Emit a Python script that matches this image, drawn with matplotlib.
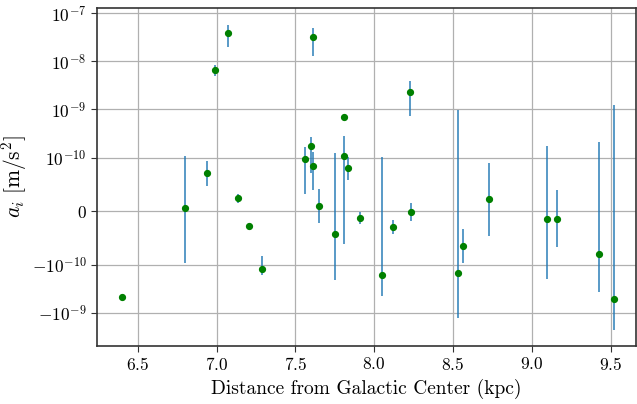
import numpy as np
import matplotlib
matplotlib.use("Agg")
import matplotlib.pyplot as plt
from matplotlib.ticker import FixedLocator, NullLocator, LogFormatterSciNotation

plt.rcParams['font.family'] = 'serif'
plt.rcParams['font.serif'] = ['cmr10', 'DejaVu Serif']
plt.rcParams['mathtext.fontset'] = 'cm'
plt.rcParams['axes.formatter.use_mathtext'] = True
plt.rcParams['axes.unicode_minus'] = True

# Galaktik merkezden uzaklik (kpc), ivme ve hata
distance = [6.397, 6.800, 6.939, 6.989, 7.074, 7.137, 7.207, 7.287,
            7.561, 7.601, 7.610, 7.612, 7.650, 7.750, 7.808, 7.808,
            7.835, 7.909, 8.051, 8.118, 8.226, 8.234, 8.532, 8.565,
            8.728, 9.095, 9.160, 9.430, 9.523]
accel = [-4.6e-10, 0.06e-10, 0.71e-10, 6.65e-9, 3.86e-8, 0.24e-10, -0.28e-10, -1.23e-10,
         0.98e-10, 1.72e-10, 3.13e-8, 0.84e-10, 0.10e-10, -0.43e-10, 7.15e-10, 1.10e-10,
         0.81e-10, -0.12e-10, -1.66e-10, -0.30e-10, 2.30e-9, -0.01e-10, -1.51e-10, -0.65e-10,
         0.22e-10, -0.14e-10, -0.14e-10, -0.80e-10, -5.2e-10]
accel_err = [0.0, 1.02e-10, 0.235e-10, 1.8e-9, 1.9e-8, 0.085e-10, 0.0, 0.40e-10,
             0.65e-10, 1.0e-10, 1.85e-8, 0.45e-10, 0.32e-10, 1.68e-10, 0.0, 1.72e-10,
             0.23e-10, 0.11e-10, 2.7e-10, 0.13e-10, 1.55e-9, 0.17e-10, 1.11e-9, 0.32e-10,
             0.68e-10, 1.87e-10, 0.53e-10, 2.9e-10, 1.74e-9]

yticks = [-1e-9, -1e-10, 0, 1e-10, 1e-9, 1e-8, 1e-7]

fig = plt.figure(figsize=(6.37, 4.04), dpi=100)
ax = fig.add_axes([0.152, 0.144, 0.846, 0.836])

ax.errorbar(distance, accel, yerr=accel_err, fmt='none', ecolor='#1f77b4',
            elinewidth=1.3, alpha=0.8, zorder=2)
ax.plot(distance, accel, 'o', color='green', markersize=4.2, zorder=3)

ax.set_yscale('symlog', linthresh=1e-10)
ax.yaxis.set_major_locator(FixedLocator(yticks))
ax.yaxis.set_major_formatter(LogFormatterSciNotation(base=10, labelOnlyBase=False))
ax.yaxis.set_minor_locator(NullLocator())
ax.set_ylim(-4.8e-9, 1.27e-7)
ax.set_xlim(6.24, 9.66)
ax.set_xticks([6.5, 7.0, 7.5, 8.0, 8.5, 9.0, 9.5])

ax.grid(True, color='#b0b0b0', linewidth=0.9)
ax.set_axisbelow(True)
for s in ax.spines.values():
    s.set_color('#333333')
    s.set_linewidth(1.2)
ax.tick_params(direction='out', length=4, labelsize=12.5, color='#333333')

ax.set_xlabel('Distance from Galactic Center (kpc)', fontsize=14)
ax.set_ylabel(r'$a_i\ [\mathrm{m/s^2}]$', fontsize=15.5, labelpad=2)

fig.savefig('out.png', dpi=100)
